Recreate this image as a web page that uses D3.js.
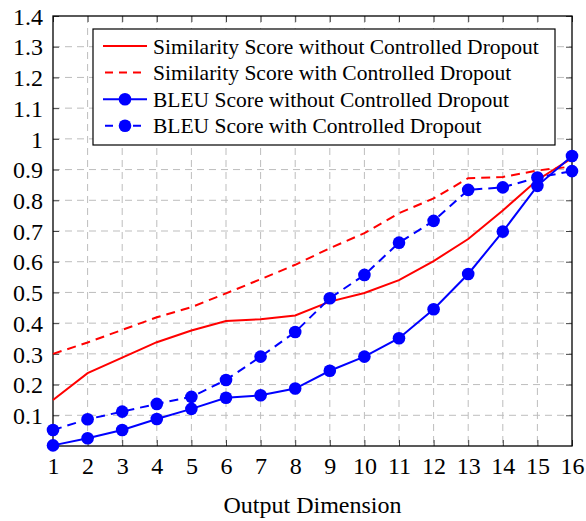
<!DOCTYPE html>
<html>
<head>
<meta charset="utf-8">
<title>Output Dimension</title>
<script src="https://cdn.jsdelivr.net/npm/d3@7"></script>
</head>
<body style="margin:0">
<svg id="chart" width="586" height="521"></svg>
<script>
// data
var dims = [1, 2, 3, 4, 5, 6, 7, 8, 9, 10, 11, 12, 13, 14, 15, 16];
var simNoDrop   = [0.15, 0.237, 0.288, 0.338, 0.376, 0.407, 0.413, 0.425, 0.47, 0.498, 0.54, 0.602, 0.674, 0.767, 0.866, 0.937];
var simDrop     = [0.30, 0.337, 0.378, 0.419, 0.452, 0.497, 0.543, 0.590, 0.644, 0.693, 0.758, 0.806, 0.872, 0.876, 0.897, 0.91];
var bleuNoDrop  = [0.002, 0.025, 0.052, 0.088, 0.121, 0.157, 0.165, 0.187, 0.245, 0.291, 0.351, 0.445, 0.56, 0.698, 0.847, 0.944];
var bleuDrop    = [0.052, 0.087, 0.112, 0.137, 0.16, 0.215, 0.291, 0.371, 0.481, 0.557, 0.662, 0.733, 0.834, 0.842, 0.874, 0.895];
var yTicks = [0.1, 0.2, 0.3, 0.4, 0.5, 0.6, 0.7, 0.8, 0.9, 1, 1.1, 1.2, 1.3, 1.4];
var seriesNames = [
  "Similarity Score without Controlled Dropout",
  "Similarity Score with Controlled Dropout",
  "BLEU Score without Controlled Dropout",
  "BLEU Score with Controlled Dropout"
];

var FONT = "Times New Roman";
var svgDims = {width: 586, height: 521};
var margin = {top: 16, right: 14, bottom: 75, left: 53};
var width = svgDims.width - margin.left - margin.right;
var height = svgDims.height - margin.top - margin.bottom;

var svg = d3.select("#chart");

var g = svg.append("g")
  .attr("transform", "translate(" + margin.left + "," + margin.top + ")");

var x = d3.scaleLinear().domain([1, 16]).range([0, width]);
var y = d3.scaleLinear().domain([0, 1.4]).range([height, 0]);

// grid
g.append("g").selectAll("line").data(dims.slice(1, -1)).join("line")
  .attr("x1", function(d) { return x(d); }).attr("x2", function(d) { return x(d); })
  .attr("y1", 0).attr("y2", height)
  .attr("stroke", "#bdbdbd").attr("stroke-width", 1).attr("stroke-dasharray", "7,5");
g.append("g").selectAll("line").data(yTicks.slice(0, -1)).join("line")
  .attr("x1", 0).attr("x2", width)
  .attr("y1", function(d) { return y(d); }).attr("y2", function(d) { return y(d); })
  .attr("stroke", "#bdbdbd").attr("stroke-width", 1).attr("stroke-dasharray", "7,5");

// axes, ticks point inward on all four sides
var xAxis = d3.axisBottom(x).tickValues(dims).tickSize(-6).tickPadding(11).tickFormat(d3.format("d"));
var yAxis = d3.axisLeft(y).tickValues(yTicks).tickSize(-6).tickPadding(10).tickFormat(function(d) { return d3.format("")(d); });

var gx = g.append("g").attr("transform", "translate(0," + height + ")").call(xAxis);
var gy = g.append("g").call(yAxis);
g.append("g").call(d3.axisTop(x).tickValues(dims).tickSize(-6).tickFormat(""));
g.append("g").attr("transform", "translate(" + width + ",0)")
  .call(d3.axisRight(y).tickValues(yTicks).tickSize(-6).tickFormat(""));

g.selectAll(".domain").remove();
g.selectAll(".tick line").attr("stroke", "#444");
gx.attr("font-family", null).attr("font-size", null);
gy.attr("font-family", null).attr("font-size", null);
gx.selectAll("text").attr("font-family", FONT).attr("font-size", 24);
gy.selectAll("text").attr("font-family", FONT).attr("font-size", 24).attr("dy", "0.34em");

g.append("rect").attr("width", width).attr("height", height)
  .attr("fill", "none").attr("stroke", "#000").attr("stroke-width", 1.3);

// lines
var line = d3.line()
  .x(function(d, i) { return x(dims[i]); })
  .y(function(d) { return y(d); });

var series = [
  {values: simNoDrop, color: "#ff0000", dash: null, marker: false},
  {values: simDrop, color: "#ff0000", dash: "9,6", marker: false},
  {values: bleuNoDrop, color: "#0000ff", dash: null, marker: true},
  {values: bleuDrop, color: "#0000ff", dash: "9,6", marker: true}
];

series.forEach(function(s) {
  g.append("path").datum(s.values)
    .attr("fill", "none")
    .attr("stroke", s.color)
    .attr("stroke-width", 2)
    .attr("stroke-dasharray", s.dash)
    .attr("d", line);
  if (s.marker) {
    g.append("g").selectAll("circle").data(s.values).join("circle")
      .attr("cx", function(d, i) { return x(dims[i]); })
      .attr("cy", function(d) { return y(d); })
      .attr("r", 6.3)
      .attr("fill", s.color);
  }
});

// x label
svg.append("text")
  .attr("x", margin.left + width / 2)
  .attr("y", 513)
  .attr("text-anchor", "middle")
  .attr("font-family", FONT)
  .attr("font-size", 24)
  .text("Output Dimension");

// legend
var legend = svg.append("g").attr("transform", "translate(93,29)");
legend.append("rect").attr("width", 462).attr("height", 116)
  .attr("fill", "#fff").attr("stroke", "#000").attr("stroke-width", 1.2);

series.forEach(function(s, i) {
  var row = legend.append("g").attr("transform", "translate(0," + (17 + i * 26.6) + ")");
  row.append("line").attr("x1", 10).attr("x2", 54)
    .attr("stroke", s.color).attr("stroke-width", 2)
    .attr("stroke-dasharray", s.dash ? "8,6" : null)
    .attr("stroke-dashoffset", s.dash ? -2 : null);
  if (s.marker) row.append("circle").attr("cx", 32).attr("r", 6.3).attr("fill", s.color);
  row.append("text").attr("x", 60).attr("dy", "0.35em")
    .attr("font-family", FONT)
    .attr("font-size", 21.5).text(seriesNames[i]);
});

// re-apply the face once fonts are ready, in case the first layout fell back
if (document.fonts && document.fonts.ready) {
  document.fonts.ready.then(function() {
    svg.selectAll("text").attr("font-family", FONT);
  });
}
</script>
</body>
</html>
